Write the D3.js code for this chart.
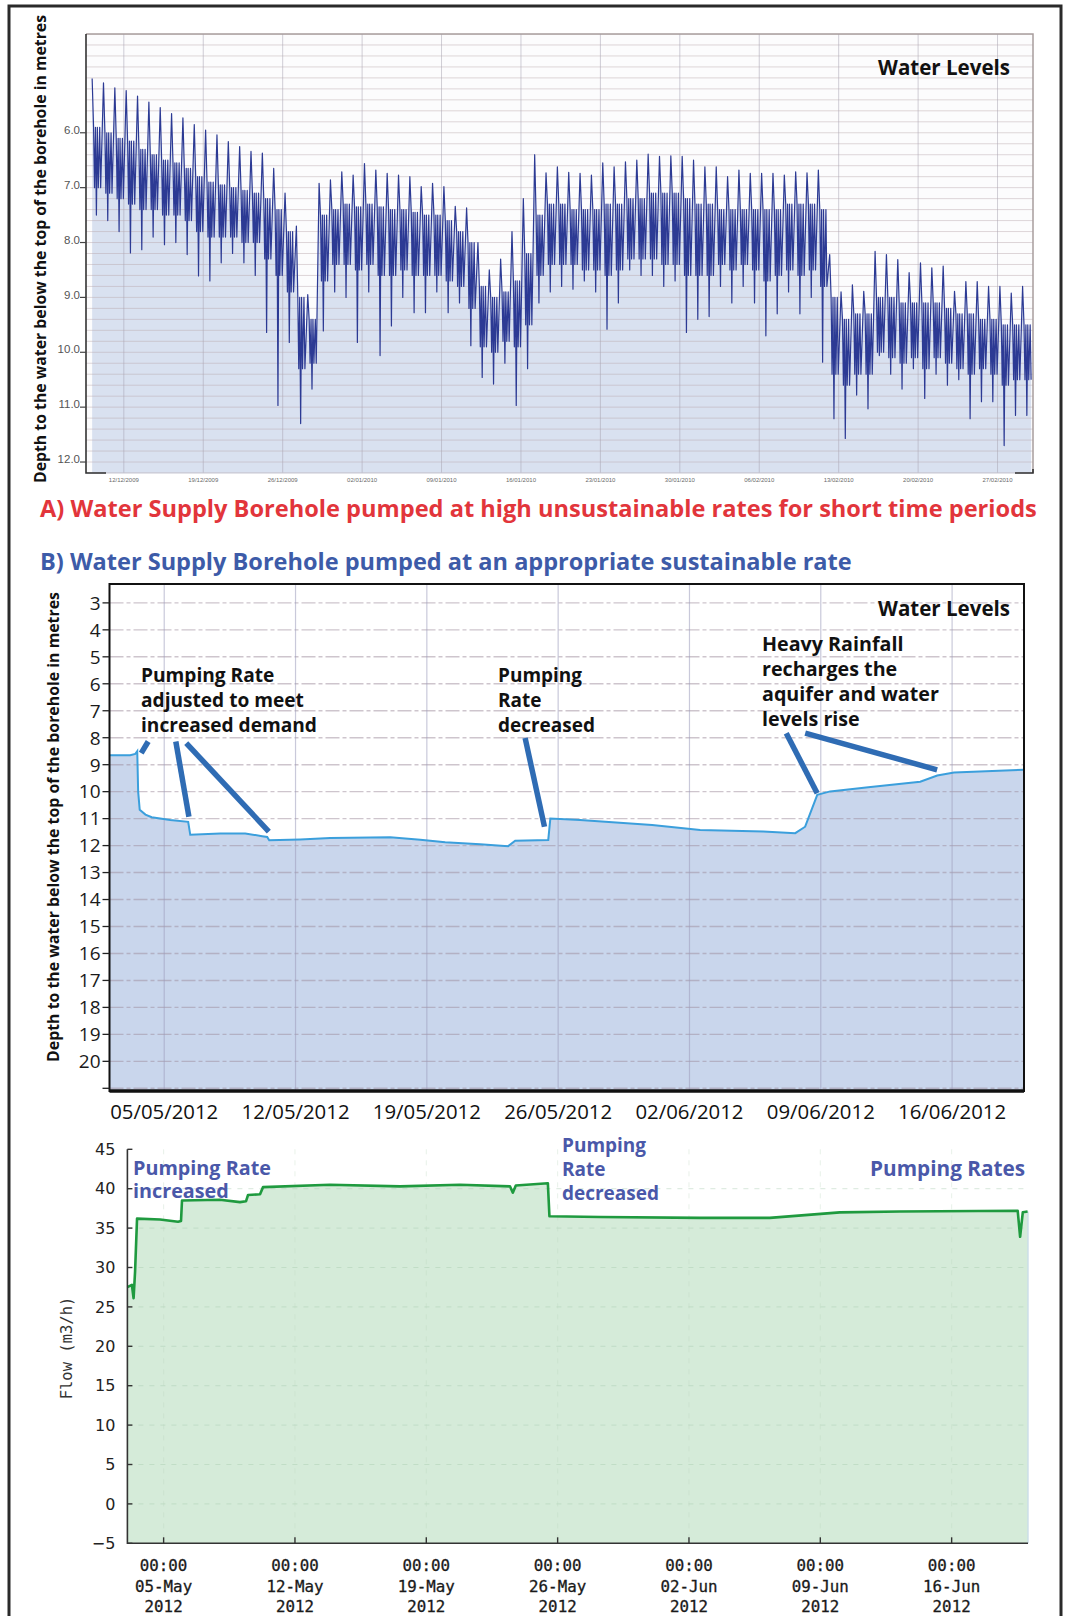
<!DOCTYPE html>
<html>
<head>
<meta charset="utf-8">
<title>Borehole water levels</title>
<script src="https://cdn.jsdelivr.net/npm/d3@7"></script>
<style>
  body { margin: 0; background: #fff; }
  svg { display: block; }
</style>
</head>
<body>
<svg id="chart" width="1065" height="1616"></svg>
<script>
// ---- data ------------------------------------------------------------

// A) logger summarised per day from 09/12/2009: depth below top of borehole (m)
const dayStartA = "2009-12-09";
const peakA = [5.01, 5.09, 5.18, 5.23, 5.33, 5.44, 5.54, 5.65, 5.73, 5.85,
  5.95, 6.04, 6.16, 6.25, 6.34, 6.37, 6.65, 7.10, 7.70, 8.95,
  6.92, 6.86, 6.71, 6.77, 6.56, 6.68, 6.74, 6.77, 6.80, 6.98,
  6.92, 6.98, 7.34, 7.37, 8.00, 8.50, 8.30, 7.80, 7.20, 6.40,
  6.73, 6.62, 6.72, 6.74, 6.77, 6.55, 6.62, 6.53, 6.50, 6.39,
  6.43, 6.42, 6.43, 6.50, 6.62, 6.62, 6.80, 6.68, 6.74, 6.74,
  6.74, 6.77, 6.71, 6.73, 6.68, 8.22, 8.90, 8.77, 8.89, 8.16,
  8.22, 8.31, 8.55, 8.37, 8.46, 8.43, 8.89, 8.71, 8.71, 8.80,
  8.80, 8.92, 8.80];
const bandTopA = [5.90, 6.00, 6.10, 6.15, 6.30, 6.40, 6.50, 6.55, 6.65, 6.80,
  6.90, 6.95, 7.00, 7.05, 7.10, 7.20, 7.40, 7.80, 9.00, 9.40,
  7.50, 7.40, 7.30, 7.35, 7.30, 7.35, 7.40, 7.40, 7.45, 7.50,
  7.50, 7.60, 7.80, 8.00, 8.80, 9.00, 8.90, 8.70, 8.20, 7.50,
  7.30, 7.30, 7.40, 7.40, 7.40, 7.30, 7.30, 7.20, 7.20, 7.10,
  7.10, 7.10, 7.20, 7.30, 7.30, 7.40, 7.40, 7.40, 7.40, 7.40,
  7.40, 7.30, 7.30, 7.30, 7.40, 9.00, 9.40, 9.30, 9.30, 9.00,
  9.00, 9.10, 9.10, 9.10, 9.10, 9.20, 9.30, 9.30, 9.40, 9.40,
  9.50, 9.50, 9.50];
const bandBotA = [7.00, 7.10, 7.20, 7.30, 7.40, 7.40, 7.50, 7.50, 7.60, 7.80,
  7.90, 7.90, 7.90, 8.00, 8.00, 8.30, 8.60, 8.90, 10.30, 10.20,
  8.70, 8.40, 8.40, 8.50, 8.40, 8.60, 8.60, 8.50, 8.60, 8.60,
  8.60, 8.70, 8.80, 9.20, 9.90, 10.00, 9.80, 9.90, 9.50, 8.60,
  8.40, 8.40, 8.40, 8.50, 8.50, 8.60, 8.50, 8.30, 8.30, 8.30,
  8.40, 8.40, 8.60, 8.60, 8.60, 8.40, 8.50, 8.40, 8.50, 8.70,
  8.60, 8.50, 8.60, 8.50, 8.80, 10.40, 10.60, 10.40, 10.40, 10.00,
  10.10, 10.20, 10.10, 10.30, 10.10, 10.20, 10.30, 10.40, 10.30, 10.40,
  10.60, 10.50, 10.50];
const troughA = [7.50, 7.60, 7.80, 8.19, 8.13, 7.90, 8.04, 8.00, 8.22, 8.61,
  8.70, 8.37, 8.20, 8.37, 8.60, 9.64, 10.97, 9.82, 11.30, 10.67,
  9.61, 8.90, 9.00, 9.82, 8.90, 10.06, 9.52, 9.00, 9.28, 9.28,
  8.90, 9.28, 9.10, 9.88, 10.46, 10.58, 10.20, 10.97, 10.30, 9.10,
  8.90, 8.80, 8.85, 8.70, 8.90, 9.58, 9.10, 8.50, 8.60, 8.60,
  8.80, 8.70, 9.64, 9.40, 9.35, 8.80, 9.10, 8.80, 9.10, 9.70,
  9.30, 8.90, 9.30, 9.00, 10.18, 11.21, 11.57, 10.78, 11.03, 10.06,
  10.40, 10.67, 10.30, 10.84, 10.40, 10.60, 10.50, 11.21, 10.90, 10.90,
  11.70, 11.15, 11.15];
const depthTicksA = [6, 7, 8, 9, 10, 11, 12];

// B) sustainable pumping: water level (m below top of borehole)
const levelTimes = ["2012-05-02 02:00", "2012-05-03 04:30", "2012-05-03 11:00", "2012-05-03 13:30",
  "2012-05-03 14:40", "2012-05-03 16:40", "2012-05-04 00:00", "2012-05-04 08:00", "2012-05-05 07:40",
  "2012-05-06 06:40", "2012-05-06 09:20", "2012-05-07 23:45", "2012-05-09 07:40", "2012-05-10 05:20",
  "2012-05-10 11:45", "2012-05-10 14:20", "2012-05-12 06:00", "2012-05-13 20:24", "2012-05-17 01:12",
  "2012-05-18 15:36", "2012-05-19 23:30", "2012-05-21 20:10", "2012-05-23 08:00", "2012-05-23 17:00",
  "2012-05-25 11:20", "2012-05-25 14:00", "2012-05-27 04:00", "2012-05-31 00:15", "2012-06-02 13:40",
  "2012-06-05 22:20", "2012-06-07 15:20", "2012-06-08 04:00", "2012-06-08 19:30", "2012-06-09 12:00",
  "2012-06-11 12:45", "2012-06-14 07:12", "2012-06-15 05:00", "2012-06-16 02:30", "2012-06-19 20:00"];
const levelB = [8.65, 8.65, 8.60, 8.50, 10.0, 10.67, 10.85, 10.95, 11.05, 11.12,
  11.6, 11.55, 11.55, 11.65, 11.68, 11.8, 11.77, 11.72, 11.69, 11.78,
  11.88, 11.95, 12.02, 11.82, 11.79, 11.0, 11.05, 11.24, 11.42, 11.48,
  11.54, 11.3, 10.12, 9.99, 9.84, 9.63, 9.40, 9.29, 9.19];
const depthTicksB = d3.range(3, 22);

// C) pumping rate (m3/h)
const flowTimes = ["2012-05-03 01:40", "2012-05-03 07:25", "2012-05-03 09:35", "2012-05-03 11:30",
  "2012-05-03 14:00", "2012-05-04 19:25", "2012-05-05 18:25", "2012-05-05 22:15", "2012-05-05 23:30",
  "2012-05-08 00:00", "2012-05-09 01:40", "2012-05-09 09:20", "2012-05-09 12:00", "2012-05-10 03:20",
  "2012-05-10 07:10", "2012-05-13 20:40", "2012-05-17 14:25", "2012-05-20 19:00", "2012-05-23 11:00",
  "2012-05-23 14:40", "2012-05-23 18:30", "2012-05-25 11:30", "2012-05-25 13:30", "2012-05-28 06:15",
  "2012-06-02 14:00", "2012-06-06 07:25", "2012-06-10 01:00", "2012-06-13 05:45", "2012-06-19 12:30",
  "2012-06-19 15:35", "2012-06-19 19:00", "2012-06-20 01:10"];
const flowC = [27.5, 27.8, 26.1, 29.5, 36.2, 36.1, 35.8, 35.9, 38.5, 38.6,
  38.3, 38.4, 39.2, 39.3, 40.2, 40.5, 40.3, 40.5, 40.3, 39.5,
  40.4, 40.7, 36.5, 36.4, 36.3, 36.3, 37.0, 37.1, 37.2, 33.9,
  37.0, 37.1];
const flowTicks = d3.range(-5, 46, 5);

// annotation pointers in data space: [fromTime, fromDepth, toTime, toDepth]
const pointersB = [
  ["2012-05-04 03:30", 8.14, "2012-05-03 18:35", 8.57],
  ["2012-05-05 14:50", 8.14, "2012-05-06 07:36", 10.93],
  ["2012-05-06 04:10", 8.20, "2012-05-10 13:50", 11.48],
  ["2012-05-24 05:45", 8.01, "2012-05-25 06:30", 11.30],
  ["2012-06-07 03:50", 7.83, "2012-06-08 19:25", 10.06],
  ["2012-06-08 04:05", 7.83, "2012-06-15 04:50", 9.19]
];

// ---- helpers ---------------------------------------------------------

const parseDay = d3.timeParse("%Y-%m-%d");
const parseTime = d3.timeParse("%Y-%m-%d %H:%M");
const svg = d3.select("#chart");
const BOLD = "'Open Sans', 'Noto Sans', sans-serif";

// scale the font of a set of lines so that one reference line has the wanted width
function fitLines(texts, refIndex, width) {
  const ref = texts[refIndex].node();
  const k = width / ref.getComputedTextLength();
  texts.forEach(t => t.attr("font-size", (parseFloat(t.attr("font-size")) * k).toFixed(2)));
}

function textBlock(g, lines, x, y0, step, opts) {
  const texts = lines.map((s, i) => g.append("text")
    .attr("x", x).attr("y", y0 + i * step)
    .attr("font-family", opts.family || BOLD)
    .attr("font-weight", opts.weight || "bold")
    .attr("font-size", opts.size || 20)
    .attr("fill", opts.fill || "#111")
    .attr("text-anchor", opts.anchor || "start")
    .text(s));
  if (opts.fitWidth) fitLines(texts, opts.fitRef || 0, opts.fitWidth);
  return texts;
}

// outer frame
svg.append("rect").attr("x", 9).attr("y", 6).attr("width", 1052).attr("height", 1660)
  .attr("fill", "none").attr("stroke", "#2a2a2a").attr("stroke-width", 3);

// ---- A) unsustainable pumping -----------------------------------------

const xA = d3.scaleTime()
  .domain([parseTime("2009-12-08 16:00"), parseTime("2010-03-02 03:00")])
  .range([86, 1033]);
const yA = d3.scaleLinear().domain([4.2, 12.2]).range([34, 473]);
const [aLeft, aRight] = xA.range();
const [aTop, aBottom] = yA.range();

svg.append("clipPath").attr("id", "clipA").append("rect")
  .attr("x", aLeft).attr("y", aTop).attr("width", aRight - aLeft).attr("height", aBottom - aTop);

const gA = svg.append("g");
gA.append("rect").attr("x", aLeft).attr("y", aTop)
  .attr("width", aRight - aLeft).attr("height", aBottom - aTop).attr("fill", "#fcfcfd");

// daily saw-tooth: recovery peak, then drawdown through the band to the deepest point
const dayShape = [[5, "peak"], [8, "top"], [10, "bot"], [12, "top"], [14, "trough"],
  [16, "top"], [18, "bot"], [21, "top"], [23, "bot"]];
const seriesA = { peak: peakA, top: bandTopA, bot: bandBotA, trough: troughA };
const day0 = parseDay(dayStartA);
const pointsA = peakA.flatMap((_, i) => {
  const day = d3.timeDay.offset(day0, i);
  return dayShape.map(([h, key]) => ({ t: d3.timeHour.offset(day, h), v: seriesA[key][i] }));
});

const plotA = gA.append("g").attr("clip-path", "url(#clipA)");
plotA.append("path").datum(pointsA)
  .attr("fill", "#d9e1f0")
  .attr("d", d3.area().x(d => xA(d.t)).y0(aBottom).y1(d => yA(d.v)));

plotA.append("g").selectAll("line").data(d3.ticks(4.2, 12.2, 40)).join("line")
  .attr("x1", aLeft).attr("x2", aRight)
  .attr("y1", d => yA(d)).attr("y2", d => yA(d))
  .attr("stroke", "#b7a6ab").attr("stroke-opacity", 0.45);

const weeksA = xA.ticks(d3.timeSaturday.every(1));
plotA.append("g").selectAll("line").data(weeksA).join("line")
  .attr("x1", d => xA(d)).attr("x2", d => xA(d))
  .attr("y1", aTop).attr("y2", aBottom)
  .attr("stroke", "#aaa6b4").attr("stroke-opacity", 0.55);

plotA.append("path").datum(pointsA)
  .attr("fill", "none").attr("stroke", "#2c3a94").attr("stroke-width", 1.2)
  .attr("stroke-linejoin", "round")
  .attr("d", d3.line().x(d => xA(d.t)).y(d => yA(d.v)));

// frame
gA.append("path").attr("fill", "none").attr("stroke", "#a89d9d").attr("stroke-width", 1.5)
  .attr("d", `M${aLeft},${aTop}H${aRight}V${aBottom}`);
gA.append("line").attr("x1", aLeft).attr("x2", aRight).attr("y1", aBottom).attr("y2", aBottom)
  .attr("stroke", "#c8c8d4");
gA.append("path").attr("fill", "none").attr("stroke", "#333").attr("stroke-width", 1.6)
  .attr("d", `M${aLeft},${aTop}V${aBottom}H${aLeft + 20}M${aRight - 18},${aBottom}H${aRight}V${aBottom - 4}`);

const yAxisA = gA.append("g");
yAxisA.selectAll("line").data(depthTicksA).join("line")
  .attr("x1", aLeft - 6).attr("x2", aLeft).attr("y1", d => yA(d)).attr("y2", d => yA(d))
  .attr("stroke", "#444").attr("stroke-width", 1.2);
yAxisA.selectAll("text").data(depthTicksA).join("text")
  .attr("x", aLeft - 6).attr("y", d => yA(d)).attr("dy", "0.1em")
  .attr("text-anchor", "end").attr("font-family", "'Liberation Sans', Arial, sans-serif")
  .attr("font-size", 11.5).attr("fill", "#555").text(d3.format(".1f"));

gA.append("g").selectAll("text").data(weeksA).join("text")
  .attr("x", d => xA(d)).attr("y", 482).attr("text-anchor", "middle")
  .attr("font-family", "'Liberation Sans', Arial, sans-serif").attr("font-size", 6)
  .attr("fill", "#6a6a6a").text(d3.timeFormat("%d/%m/%Y"));

const ylabA = gA.append("text").attr("transform", "translate(46,249) rotate(-90)")
  .attr("text-anchor", "middle").attr("font-family", BOLD).attr("font-weight", "bold")
  .attr("font-size", 15).attr("fill", "#111")
  .text("Depth to the water below the top of the borehole in metres");
fitLines([ylabA], 0, 468);

textBlock(gA, ["Water Levels"], 1010, 75, 0, { anchor: "end", fitWidth: 132 });

// titles
textBlock(svg, ["A) Water Supply Borehole pumped at high unsustainable rates for short time periods"],
  40, 517, 0, { fill: "#e2353b", fitWidth: 997 });
textBlock(svg, ["B) Water Supply Borehole pumped at an appropriate sustainable rate"],
  40, 570, 0, { fill: "#3d5ba8", fitWidth: 812 });

// ---- B) sustainable pumping: water level ------------------------------

const xB = d3.scaleTime()
  .domain([parseTime("2012-05-02 02:00"), parseTime("2012-06-19 20:00")])
  .range([109.5, 1024]);
const yB = d3.scaleLinear().domain([2.3, 21.1]).range([584, 1091]);
const [bLeft, bRight] = xB.range();
const [bTop, bBottom] = yB.range();
const levelData = levelTimes.map((t, i) => ({ t: parseTime(t), v: levelB[i] }));

const gB = svg.append("g");
gB.append("rect").attr("x", bLeft).attr("y", bTop)
  .attr("width", bRight - bLeft).attr("height", bBottom - bTop).attr("fill", "#fff");

gB.append("path").datum(levelData)
  .attr("fill", "#c9d6ec")
  .attr("d", d3.area().x(d => xB(d.t)).y0(bBottom).y1(d => yB(d.v)));

gB.append("g").selectAll("line").data(depthTicksB).join("line")
  .attr("x1", bLeft).attr("x2", bRight).attr("y1", d => yB(d)).attr("y2", d => yB(d))
  .attr("stroke", "#9d8c9c").attr("stroke-opacity", 0.5).attr("stroke-width", 1.4)
  .attr("stroke-dasharray", "14,3,4,3");

const weeksB = xB.ticks(d3.timeSaturday.every(1));
gB.append("g").selectAll("line").data(weeksB).join("line")
  .attr("x1", d => xB(d)).attr("x2", d => xB(d)).attr("y1", bTop).attr("y2", bBottom)
  .attr("stroke", "#9c9cbc").attr("stroke-opacity", 0.55).attr("stroke-width", 1.2);

gB.append("path").datum(levelData)
  .attr("fill", "none").attr("stroke", "#3b9fdc").attr("stroke-width", 2)
  .attr("d", d3.line().x(d => xB(d.t)).y(d => yB(d.v)));

gB.append("rect").attr("x", bLeft).attr("y", bTop)
  .attr("width", bRight - bLeft).attr("height", bBottom - bTop)
  .attr("fill", "none").attr("stroke", "#111").attr("stroke-width", 2);
gB.append("line").attr("x1", bLeft).attr("x2", bRight).attr("y1", bBottom).attr("y2", bBottom)
  .attr("stroke", "#111").attr("stroke-width", 3.5);

gB.append("g").selectAll("line").data(depthTicksB).join("line")
  .attr("x1", bLeft - 7).attr("x2", bLeft).attr("y1", d => yB(d)).attr("y2", d => yB(d))
  .attr("stroke", "#222").attr("stroke-width", 1.3);
gB.append("g").selectAll("text").data(depthTicksB.filter(d => d <= 20)).join("text")
  .attr("x", bLeft - 9).attr("y", d => yB(d)).attr("dy", "0.36em")
  .attr("text-anchor", "end").attr("font-family", "'Open Sans', sans-serif")
  .attr("font-size", 19).attr("fill", "#1a1a1a").text(d => d);

const xLabB = weeksB.map(d => gB.append("text")
  .attr("x", xB(d)).attr("y", 1119).attr("text-anchor", "middle")
  .attr("font-family", "'Open Sans', sans-serif").attr("font-size", 20).attr("fill", "#111")
  .text(d3.timeFormat("%d/%m/%Y")(d)));
fitLines(xLabB, 0, 108);

const ylabB = gB.append("text").attr("transform", "translate(59,827) rotate(-90)")
  .attr("text-anchor", "middle").attr("font-family", BOLD).attr("font-weight", "bold")
  .attr("font-size", 15).attr("fill", "#111")
  .text("Depth to the water below the top of the borehole in metres");
fitLines([ylabB], 0, 470);

textBlock(gB, ["Water Levels"], 1010, 616, 0, { anchor: "end", fitWidth: 132 });
textBlock(gB, ["Pumping Rate", "adjusted to meet", "increased demand"], 141, 682, 25,
  { fitWidth: 176, fitRef: 2 });
textBlock(gB, ["Pumping", "Rate", "decreased"], 498, 682, 25, { fitWidth: 97, fitRef: 2 });
textBlock(gB, ["Heavy Rainfall", "recharges the", "aquifer and water", "levels rise"], 762, 651, 25,
  { fitWidth: 177, fitRef: 2 });

gB.append("g").selectAll("line").data(pointersB).join("line")
  .attr("x1", d => xB(parseTime(d[0]))).attr("y1", d => yB(d[1]))
  .attr("x2", d => xB(parseTime(d[2]))).attr("y2", d => yB(d[3]))
  .attr("stroke", "#2f6cb4").attr("stroke-width", 5.5);

// ---- C) pumping rate -------------------------------------------------

const xC = d3.scaleTime()
  .domain([parseTime("2012-05-03 01:40"), parseTime("2012-06-20 01:40")])
  .range([127.4, 1028]);
const yC = d3.scaleLinear().domain([-5, 45]).range([1543.3, 1149.3]);
const [cLeft, cRight] = xC.range();
const [cBottom, cTop] = yC.range();
const flowData = flowTimes.map((t, i) => ({ t: parseTime(t), v: flowC[i] }));

const gC = svg.append("g");
gC.append("path").datum(flowData)
  .attr("fill", "#d5ebd9")
  .attr("d", d3.area().x(d => xC(d.t)).y0(cBottom).y1(d => yC(d.v)));

gC.append("g").selectAll("line").data(flowTicks.slice(1, -1)).join("line")
  .attr("x1", cLeft).attr("x2", cRight).attr("y1", d => yC(d)).attr("y2", d => yC(d))
  .attr("stroke", "#a9cdb0").attr("stroke-opacity", 0.45).attr("stroke-dasharray", "5,6");
const weeksC = xC.ticks(d3.timeSaturday.every(1));
gC.append("g").selectAll("line").data(weeksC).join("line")
  .attr("x1", d => xC(d)).attr("x2", d => xC(d)).attr("y1", cTop).attr("y2", cBottom)
  .attr("stroke", "#bcd8c0").attr("stroke-opacity", 0.35).attr("stroke-dasharray", "5,6");

gC.append("line").attr("x1", cRight).attr("x2", cRight).attr("y1", yC(37.1)).attr("y2", cBottom)
  .attr("stroke", "#b5cfe0").attr("stroke-width", 1);

gC.append("path").datum(flowData)
  .attr("fill", "none").attr("stroke", "#1f9a3f").attr("stroke-width", 2.6)
  .attr("stroke-linejoin", "round")
  .attr("d", d3.line().x(d => xC(d.t)).y(d => yC(d.v)));

gC.append("path").attr("fill", "none").attr("stroke", "#333").attr("stroke-width", 1.6)
  .attr("d", `M${cLeft},${cTop}V${cBottom}H${cRight}`);

gC.append("g").selectAll("line").data(flowTicks).join("line")
  .attr("x1", cLeft).attr("x2", cLeft + 5).attr("y1", d => yC(d)).attr("y2", d => yC(d))
  .attr("stroke", "#333").attr("stroke-width", 1.4);
gC.append("g").selectAll("text").data(flowTicks).join("text")
  .attr("x", cLeft - 12).attr("y", d => yC(d)).attr("dy", "0.36em")
  .attr("text-anchor", "end").attr("font-family", "'DejaVu Sans', Verdana, sans-serif")
  .attr("font-size", 16).attr("fill", "#222").text(d => d < 0 ? "\u2212" + (-d) : d);

gC.append("g").selectAll("line").data(weeksC).join("line")
  .attr("x1", d => xC(d)).attr("x2", d => xC(d)).attr("y1", cBottom).attr("y2", cBottom - 6)
  .attr("stroke", "#333").attr("stroke-width", 1.4);
const fmtC = [d3.timeFormat("%H:%M"), d3.timeFormat("%d-%b"), d3.timeFormat("%Y")];
const labC = gC.append("g").selectAll("g").data(weeksC).join("g");
fmtC.forEach((f, i) => labC.append("text")
  .attr("x", d => xC(d)).attr("y", 1571 + i * 20.5).attr("text-anchor", "middle")
  .attr("font-family", "'DejaVu Sans Mono', 'Liberation Mono', monospace")
  .attr("font-size", 15.8).attr("fill", "#1a1a1a")
  .attr("stroke", "#1a1a1a").attr("stroke-width", 0.3).text(f));

gC.append("text").attr("transform", "translate(72,1348) rotate(-90)")
  .attr("text-anchor", "middle").attr("font-family", "'DejaVu Sans Mono', 'Liberation Mono', monospace")
  .attr("font-size", 15.5).attr("fill", "#333").text("Flow (m3/h)");

const blueC = "#4a58a9";
textBlock(gC, ["Pumping Rate", "increased"], 133, 1175, 23, { fill: blueC, fitWidth: 138 });
textBlock(gC, ["Pumping", "Rate", "decreased"], 562, 1152, 24, { fill: blueC, fitWidth: 97, fitRef: 2 });
textBlock(gC, ["Pumping Rates"], 1025, 1176, 0, { fill: blueC, anchor: "end", fitWidth: 155 });
</script>
</body>
</html>
